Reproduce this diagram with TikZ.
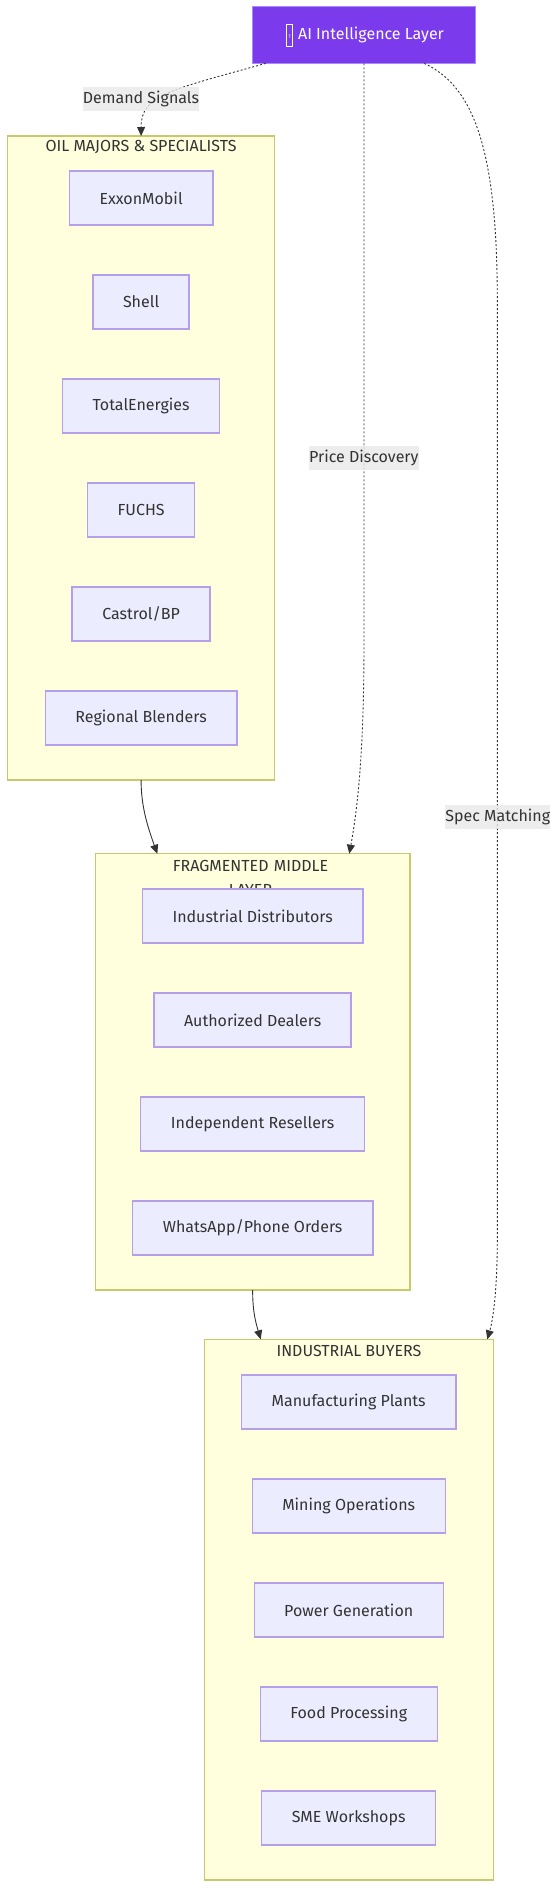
\documentclass[tikz,border=0pt]{standalone}
\usepackage{fontspec}
\setmainfont{Fira Sans}
\usetikzlibrary{arrows.meta,calc}
\definecolor{txt}{HTML}{333333}
\definecolor{nfill}{HTML}{ECECFF}
\definecolor{nline}{HTML}{9370DB}
\definecolor{gfill}{HTML}{FFFFDE}
\definecolor{gline}{HTML}{AAAA33}
\definecolor{aifill}{HTML}{7C3AED}
\definecolor{ailine}{HTML}{A78BFA}
\definecolor{lab}{HTML}{E8E8E8}
\tikzset{
  x=1pt,y=-1pt,
  every node/.style={font=\fontsize{16}{24}\selectfont,text=txt},
  box/.style={draw,inner sep=0pt,outer sep=0pt,line width=1.4pt},
  item/.style={box,fill=nfill,draw=nline!62!nfill,minimum height=54pt},
  group/.style={box,fill=gfill,draw=gline!65!gfill},
  grouptitle/.style={anchor=center,inner sep=0pt,align=center},
  edgelabel/.style={fill=lab,fill opacity=.8,text opacity=1,inner sep=0pt,minimum height=24pt},
  flow/.style={draw=txt,line width=.9pt,-{Triangle[length=9pt,width=8pt]}},
  dotflow/.style={flow,dash pattern=on 2pt off 2pt},
}
\newcommand{\tofu}{\smash{\raisebox{-6pt}{\setlength{\fboxrule}{.7pt}\setlength{\fboxsep}{0pt}\fbox{\parbox[b][20.6pt][c]{5.6pt}{\centering\vspace{3pt}\fontsize{5}{5}\selectfont ?}}}}}
\begin{document}
\begin{tikzpicture}
\useasboundingbox (0,0) rectangle (557,1888);
% groups
\node[group,minimum width=267.2pt,minimum height=644pt] (oil) at (141.1,458) {};
\node[group,minimum width=314.7pt,minimum height=436.3pt] (mid) at (252.65,1071.85) {};
\node[group,minimum width=289.4pt,minimum height=540.7pt] (buy) at (349,1609.65) {};
\node[grouptitle] (oilt) at (141,147) {OIL MAJORS \& SPECIALISTS};
\node[grouptitle,text width=200pt] (midt) at (250.5,878) {FRAGMENTED MIDDLE\\LAYER};
\node[grouptitle] (buyt) at (349,1351) {INDUSTRIAL BUYERS};
% nodes
\node[box,fill=aifill,draw=ailine,minimum width=223.4pt,minimum height=56.8pt,text=white] (ai) at (364,35) {\hspace{2pt}\tofu\hspace{5pt}AI Intelligence Layer};
\node[item,minimum width=143.4pt] (a1) at (141.1,198) {ExxonMobil};
\node[item,minimum width=96pt] (a2) at (141.1,302) {Shell};
\node[item,minimum width=157pt] (a3) at (141.1,406) {TotalEnergies};
\node[item,minimum width=107pt] (a4) at (141.1,510) {FUCHS};
\node[item,minimum width=138pt] (a5) at (141.1,614) {Castrol/BP};
\node[item,minimum width=191.7pt] (a6) at (141.1,718) {Regional Blenders};
\node[item,minimum width=220.7pt] (b1) at (252.65,916) {Industrial Distributors};
\node[item,minimum width=197pt] (b2) at (252.65,1020) {Authorized Dealers};
\node[item,minimum width=224pt] (b3) at (252.65,1124) {Independent Resellers};
\node[item,minimum width=240.4pt] (b4) at (252.65,1228) {WhatsApp/Phone Orders};
\node[item,minimum width=214.4pt] (c1) at (348.7,1402) {Manufacturing Plants};
\node[item,minimum width=193pt] (c2) at (348.7,1506) {Mining Operations};
\node[item,minimum width=189pt] (c3) at (348.7,1610) {Power Generation};
\node[item,minimum width=177pt] (c4) at (348.7,1714) {Food Processing};
\node[item,minimum width=174pt] (c5) at (348.7,1818) {SME Workshops};
% edges
\draw[dotflow] ($(ai.south west)+(13.4,0)$) .. controls (170,90) and (141,95) .. (oil.north);
\draw[dotflow] (ai.south) -- (364,640) .. controls (364,720) and (361,790) .. ($(mid.north)+(96.65,0)$);
\draw[dotflow] ($(ai.south)+(60.3,0)$) .. controls (470,85) and (497.3,140) .. (497.3,300) -- (497.3,1240) .. controls (497.3,1290) and (493,1320) .. ($(buy.north east)+(-6.4,0)$);
\draw[flow] (oil.south) .. controls (141,805) and (147,825) .. ($(mid.north west)+(62,0)$);
\draw[flow] (mid.south) .. controls (252.65,1310) and (255,1320) .. ($(buy.north west)+(56.4,0)$);
% labels
\node[edgelabel,minimum width=116pt] (l1) at (141,99) {Demand Signals};
\node[edgelabel,minimum width=109pt] (l2) at (363.8,458) {Price Discovery};
\node[edgelabel,minimum width=104.7pt] (l3) at (497.7,817) {Spec Matching};
\end{tikzpicture}
\end{document}
